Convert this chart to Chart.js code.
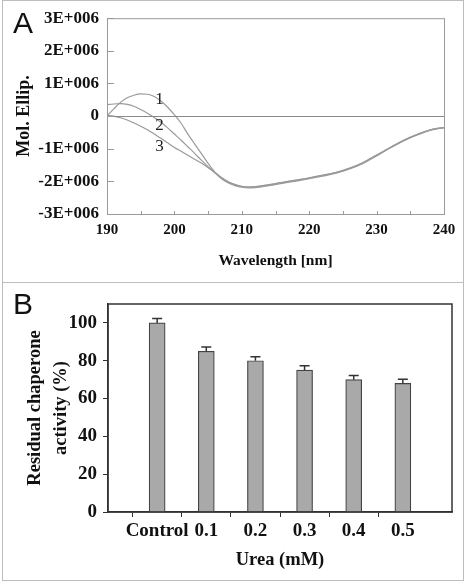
<!DOCTYPE html>
<html>
<head>
<meta charset="utf-8">
<script src="https://cdn.jsdelivr.net/npm/chart.js@4/dist/chart.umd.min.js"></script>
<style>
body { margin: 0; background: #fff; width: 466px; height: 583px; position: relative; overflow: hidden; }
.panel { position: absolute; left: 2px; width: 462px; border: 1px solid #bdbdbd; box-sizing: border-box; }
#pa { top: 0; height: 283px; }
#pb { top: 282px; height: 299px; }
canvas { position: absolute; left: 0; }
#cdChart { top: 0; }
#barChart { top: 283px; }
.tag { position: absolute; left: 13px; font: 30px "Liberation Sans", Arial, sans-serif; color: #111; line-height: 1; }
</style>
</head>
<body>
<div class="panel" id="pa"></div>
<div class="panel" id="pb"></div>
<canvas id="cdChart" width="466" height="282"></canvas>
<canvas id="barChart" width="466" height="297"></canvas>
<div class="tag" style="top:8px">A</div>
<div class="tag" style="top:289px">B</div>
<script>
// Панель A: спектры КД
const wavelength = [190,191,192,193,194,195,196,197,198,199,200,201,202,203,204,205,206,207,208,209,210,211,212,214,216,218,220,222,224,226,228,230,232,234,236,238,240];
const curve1 = [0,220000,420000,560000,640000,680000,670000,600000,460000,270000,40000,-220000,-550000,-850000,-1150000,-1450000,-1720000,-1920000,-2050000,-2130000,-2180000,-2200000,-2190000,-2130000,-2060000,-1990000,-1920000,-1840000,-1750000,-1620000,-1450000,-1220000,-980000,-760000,-580000,-430000,-350000];
const curve2 = [350000,370000,380000,360000,300000,200000,90000,-40000,-190000,-360000,-550000,-740000,-940000,-1140000,-1350000,-1550000,-1740000,-1900000,-2020000,-2100000,-2160000,-2180000,-2170000,-2110000,-2040000,-1970000,-1900000,-1820000,-1730000,-1600000,-1430000,-1200000,-970000,-750000,-570000,-420000,-350000];
const curve3 = [20000,0,-50000,-120000,-210000,-310000,-420000,-550000,-680000,-820000,-960000,-1080000,-1200000,-1320000,-1440000,-1580000,-1720000,-1880000,-2010000,-2100000,-2150000,-2170000,-2160000,-2100000,-2030000,-1960000,-1890000,-1810000,-1720000,-1590000,-1420000,-1190000,-960000,-740000,-560000,-420000,-350000];
const curveNames = ['1', '2', '3'];
const curveNameX = [197.8, 197.8, 197.8];
const curveNameY = [500000, -280000, -920000];

// Панель B: остаточная активность
const ureaLevels = ['Control', '0.1', '0.2', '0.3', '0.4', '0.5'];
const activity = [100, 85, 80, 75, 70, 68];
const activityErr = [2.3, 2.2, 2.1, 2.3, 2.2, 2.2];
const activityTicks = [0, 20, 40, 60, 80, 100];

const SERIF = '"Liberation Serif", "Times New Roman", serif';

// Рамка, внутренние засечки, нулевая линия и подписи кривых
const cdDeco = {
    id: 'cdDeco',
    afterDatasetsDraw(chart) {
        const {ctx, chartArea: a, scales: {x, y}} = chart;
        ctx.save();
        ctx.strokeStyle = '#9a9a9a';
        ctx.lineWidth = 1;
        ctx.strokeRect(a.left + 0.5, a.top + 0.5, a.right - a.left, a.bottom - a.top);
        const y0 = Math.round(y.getPixelForValue(0)) + 0.5;
        ctx.strokeStyle = '#8a8a8a';
        ctx.beginPath();
        ctx.moveTo(a.left, y0); ctx.lineTo(a.right, y0);
        ctx.stroke();
        ctx.strokeStyle = '#9a9a9a';
        ctx.beginPath();
        x.ticks.forEach(t => {
            const px = Math.round(x.getPixelForValue(t.value)) + 0.5;
            ctx.moveTo(px, a.bottom); ctx.lineTo(px, a.bottom - 3);
        });
        y.ticks.forEach(t => {
            const py = Math.round(y.getPixelForValue(t.value)) + 0.5;
            ctx.moveTo(a.left, py); ctx.lineTo(a.left + 7, py);
        });
        ctx.stroke();
        ctx.fillStyle = '#222';
        ctx.font = '17px ' + SERIF;
        ctx.textAlign = 'center';
        ctx.textBaseline = 'middle';
        curveNames.forEach((n, i) => {
            ctx.fillText(n, x.getPixelForValue(curveNameX[i]), y.getPixelForValue(curveNameY[i]));
        });
        ctx.restore();
    }
};

const mkSeries = arr => wavelength.map((w, i) => ({x: w, y: arr[i]}));
const lineStyle = {borderColor: '#9a9a9a', borderWidth: 1.2, pointRadius: 0, cubicInterpolationMode: 'monotone', fill: false};

new Chart(document.getElementById('cdChart'), {
    type: 'line',
    data: {
        datasets: [
            {label: '1', data: mkSeries(curve1), ...lineStyle},
            {label: '2', data: mkSeries(curve2), ...lineStyle},
            {label: '3', data: mkSeries(curve3), ...lineStyle}
        ]
    },
    options: {
        responsive: false,
        animation: false,
        devicePixelRatio: 1,
        layout: {padding: {top: 16, right: 22, left: 10, bottom: 4}},
        plugins: {legend: {display: false}, tooltip: {enabled: false}},
        scales: {
            x: {
                type: 'linear', min: 190, max: 240,
                afterFit: s => { s.height = 64; },
                grid: {display: false, drawTicks: false},
                border: {display: false},
                ticks: {
                    stepSize: 5, autoSkip: false, maxRotation: 0, padding: 7,
                    color: '#111', font: {family: SERIF, size: 15, weight: 'bold'},
                    callback: v => (v % 10 === 0 ? String(v) : '')
                },
                title: {display: true, text: 'Wavelength [nm]', color: '#111',
                    font: {family: SERIF, size: 15.5, weight: 'bold'}, padding: {top: 0, bottom: 8}}
            },
            y: {
                min: -3000000, max: 3000000,
                afterFit: s => { s.width = 97; },
                grid: {display: false, drawTicks: false},
                border: {display: false},
                ticks: {
                    stepSize: 1000000, padding: 8,
                    color: '#111', font: {family: SERIF, size: 17, weight: 'bold'},
                    callback: v => (v === 0 ? '0' : (v / 1000000) + 'E+006')
                },
                title: {display: true, text: 'Mol. Ellip.', color: '#111',
                    font: {family: SERIF, size: 18, weight: 'bold'}, padding: {top: 4, bottom: 0}}
            }
        }
    },
    plugins: [cdDeco]
});

// Рамка и планки погрешностей для панели B
const barDeco = {
    id: 'barDeco',
    afterDatasetsDraw(chart) {
        const {ctx, chartArea: a, scales: {y}} = chart;
        const meta = chart.getDatasetMeta(0);
        ctx.save();
        ctx.strokeStyle = '#333';
        ctx.lineWidth = 1.5;
        ctx.strokeRect(a.left, a.top, a.right - a.left, a.bottom - a.top);
        meta.data.forEach((bar, i) => {
            const k = i - 1;
            if (k < 0 || k >= activity.length) return;
            const top = y.getPixelForValue(activity[k] + activityErr[k]);
            const base = y.getPixelForValue(activity[k]);
            ctx.beginPath();
            ctx.moveTo(bar.x, base); ctx.lineTo(bar.x, top);
            ctx.moveTo(bar.x - 5, top); ctx.lineTo(bar.x + 5, top);
            ctx.stroke();
        });
        ctx.restore();
    }
};

// пустые позиции по краям, как на исходном рисунке
const barLabels = [''].concat(ureaLevels, ['']);
const barValues = [null].concat(activity, [null]);
const edge = c => (c.index === 0 || c.index === barLabels.length - 1 ? 'rgba(0,0,0,0)' : '#333');

new Chart(document.getElementById('barChart'), {
    type: 'bar',
    data: {
        labels: barLabels,
        datasets: [{
            data: barValues,
            backgroundColor: '#a9a9a9',
            borderColor: '#444',
            borderWidth: 1.2,
            barThickness: 16
        }]
    },
    options: {
        responsive: false,
        animation: false,
        devicePixelRatio: 1,
        layout: {padding: {top: 21, right: 14, left: 8, bottom: 4}},
        plugins: {legend: {display: false}, tooltip: {enabled: false}},
        scales: {
            x: {
                offset: false,
                afterFit: s => { s.height = 64; },
                grid: {display: true, drawOnChartArea: false, tickLength: 5, tickColor: edge, color: edge},
                border: {display: true, color: '#333', width: 1.5},
                ticks: {padding: 3, autoSkip: false, maxRotation: 0,
                    color: '#111', font: {family: SERIF, size: 19, weight: 'bold'}},
                title: {display: true, text: 'Urea (mM)', color: '#111',
                    font: {family: SERIF, size: 18.5, weight: 'bold'}, padding: {top: 0, bottom: 4.5}}
            },
            y: {
                min: 0, max: 110,
                afterFit: s => { s.width = 100; },
                afterBuildTicks: s => { s.ticks = activityTicks.map(v => ({value: v})); },
                grid: {display: true, drawOnChartArea: false, tickLength: 5, color: '#333'},
                border: {display: true, color: '#333', width: 1.5},
                ticks: {padding: 6,
                    color: '#111', font: {family: SERIF, size: 19, weight: 'bold'}},
                title: {display: true, text: ['Residual chaperone', 'activity (%)'], color: '#111',
                    font: {family: SERIF, size: 18.5, weight: 'bold', lineHeight: 1.4}, padding: {top: 14.7, bottom: 0}}
            }
        }
    },
    plugins: [barDeco]
});
</script>
</body>
</html>
